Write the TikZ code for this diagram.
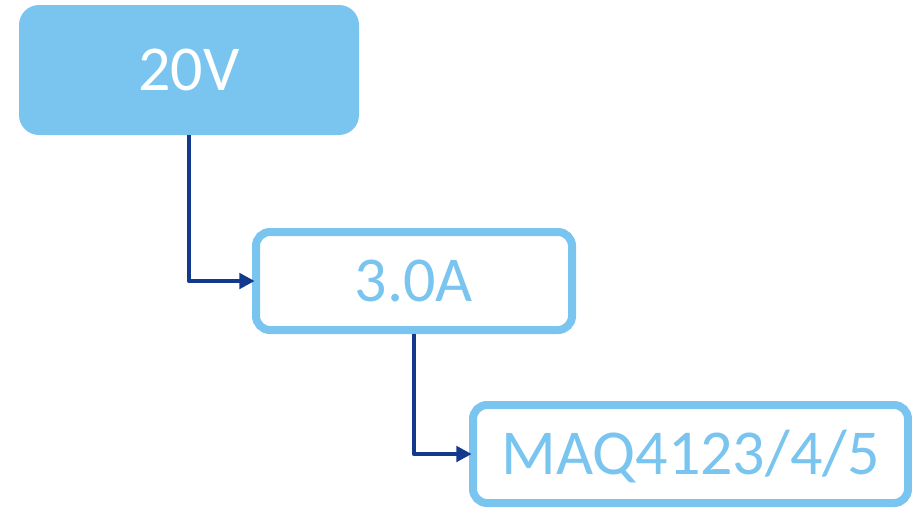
\documentclass[tikz,border=0pt]{standalone}
\usepackage{fontspec}
\setmainfont{Carlito}
\usepackage{xcolor}
\usepackage{tikz}
\usetikzlibrary{shapes.geometric, arrows.meta, positioning}

\definecolor{skyblue}{HTML}{79C5EF}
\definecolor{navyline}{HTML}{12398C}

\begin{document}
\begin{tikzpicture}[x=0.75pt, y=-0.75pt]
\tikzstyle{solidbox} = [rectangle, rounded corners=15pt, minimum width=255pt, minimum height=97.5pt, inner sep=0pt, text centered, fill=skyblue, text=white, font=\fontsize{48}{56}\selectfont, text height=30.3pt, text depth=0pt]
\tikzstyle{outlinebox} = [rectangle, rounded corners=10.5pt, minimum height=73.5pt, inner sep=0pt, text centered, draw=skyblue, line width=6pt, fill=white, text=skyblue, font=\fontsize{48}{56}\selectfont, text height=30.3pt, text depth=0pt]
\tikzstyle{arrow} = [line width=3.4pt, line join=round, -{Triangle[length=11.5pt, width=11.5pt]}, draw=navyline, shorten >=-2pt]

\useasboundingbox (0,0) rectangle (912,507);

\node (volt) [solidbox] at (189,70) {20V};
\node (current) [outlinebox, minimum width=237pt] at (414,281) {3.0A};
\node (part) [outlinebox, minimum width=326.25pt] at (690.5,454) {MAQ4123/4/5};

\draw [arrow] (volt.south) |- (current.west);
\draw [arrow] (current.south) |- (part.west);
\end{tikzpicture}
\end{document}
